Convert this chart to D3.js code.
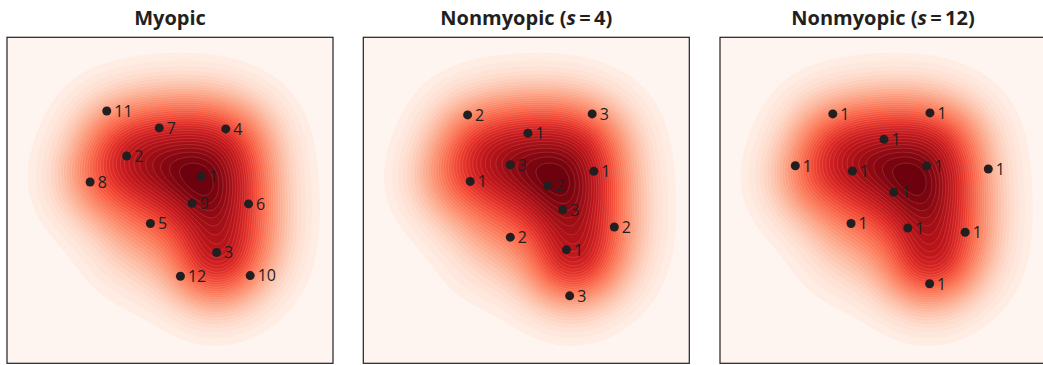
<!DOCTYPE html>
<html><head><meta charset="utf-8">
<script src="https://cdn.jsdelivr.net/npm/d3@7"></script>
<style>body{margin:0;background:#fff;} svg{display:block;}</style>
</head><body>
<svg id="chart" width="1043" height="365"></svg>
<script>
// ---- data ----
const titleMain = ["Myopic", "Nonmyopic (", "Nonmyopic ("];
const titleVar = ["", "s", "s"];
const titleTail = ["", "\u2009=\u20094)", "\u2009=\u200912)"];

// density field: Gaussian bumps (percent of frame, y downward)
const compX = [32, 46, 60, 72, 27, 73, 41, 74, 60, 73, 64, 38, 59.5, 47, 38, 60.5, 63, 55];
const compY = [29, 27, 27, 30, 44, 43, 55, 57, 70, 69, 75, 68, 42, 41, 38, 53, 66, 48];
const compSigma = [10, 10, 10, 10, 10, 10, 10, 10, 10, 10, 10, 10, 10, 9, 9, 9, 9, 16];
const compWeight = [0.45, 0.45, 0.45, 0.42, 0.55, 0.4, 0.35, 0.4, 0.4, 0.35, 0.3, 0.12, 0.58, 0.4, 0.25, 0.4, 0.18, 0.45];

const myopicX = [30.6, 46.7, 67.1, 36.7, 25.5, 59.6, 56.8, 74.1, 44.0, 64.3, 53.2, 74.6];
const myopicY = [22.6, 27.8, 28.1, 36.4, 44.4, 42.7, 50.9, 51.1, 57.1, 66.0, 73.3, 73.1];
const myopicLabels = ["11", "7", "4", "2", "8", "1", "9", "6", "5", "3", "12", "10"];

const s4X = [32.0, 70.2, 50.5, 45.1, 70.7, 32.8, 56.6, 61.2, 77.0, 45.1, 62.3, 63.3];
const s4Y = [23.8, 23.5, 29.4, 39.1, 41.1, 44.2, 45.5, 52.9, 58.2, 61.3, 65.2, 79.3];
const s4Labels = ["2", "3", "1", "3", "1", "1", "2", "3", "2", "2", "1", "3"];

const s12X = [34.6, 64.4, 50.3, 23.1, 40.6, 63.4, 82.3, 53.3, 40.2, 57.6, 75.2, 64.3];
const s12Y = [23.5, 23.2, 31.3, 39.4, 41.0, 39.5, 40.4, 47.5, 57.1, 58.5, 59.8, 75.6];
const s12Labels = ["1", "1", "1", "1", "1", "1", "1", "1", "1", "1", "1", "1"];

const panelsX = [myopicX, s4X, s12X];
const panelsY = [myopicY, s4Y, s12Y];
const panelsL = [myopicLabels, s4Labels, s12Labels];

// ---- layout ----
const panelLeft = [7, 363.3, 720];
const panelTop = 37.3;
const size = 326;
const nLevels = 38;
const lowFrac = 0.04;

const svg = d3.select("#chart");
const x = d3.scaleLinear().domain([0, 100]).range([0, size]);
const y = d3.scaleLinear().domain([0, 100]).range([0, size]);

// grid
const n = 200;
const values = new Float64Array(n * n);
for (let j = 0; j < n; j++) {
  for (let i = 0; i < n; i++) {
    const px = 100 * (i + 0.5) / n, py = 100 * (j + 0.5) / n;
    let v = 0;
    for (let k = 0; k < compX.length; k++) {
      const dx = px - compX[k], dy = py - compY[k];
      v += compWeight[k] * Math.exp(-(dx * dx + dy * dy) / (2 * compSigma[k] * compSigma[k]));
    }
    values[j * n + i] = v;
  }
}
const vmax = d3.max(values);
const thresholds = d3.range(nLevels).map(i => vmax * (lowFrac + (1 - lowFrac) * i / nLevels));
const contours = d3.contours().size([n, n]).thresholds(thresholds)(values);
const color = d3.scaleSequential(d3.interpolateReds).domain([0, vmax]);

const path = d3.geoPath(d3.geoTransform({
  point(gx, gy) { this.stream.point(x(100 * gx / n), y(100 * gy / n)); }
}));

svg.append("defs").selectAll("clipPath").data(panelLeft).join("clipPath")
  .attr("id", (d, i) => "clip" + i)
  .append("rect").attr("width", size).attr("height", size);

panelLeft.forEach((left, p) => {
  const g = svg.append("g").attr("transform", `translate(${left},${panelTop})`);
  const inner = g.append("g").attr("clip-path", `url(#clip${p})`);
  inner.append("rect").attr("width", size).attr("height", size).attr("fill", d3.interpolateReds(0));
  inner.selectAll("path.band").data(contours).join("path")
    .attr("class", "band")
    .attr("d", path)
    .attr("fill", (d, i) => {
      const hi = i + 1 < thresholds.length ? thresholds[i + 1] : vmax;
      return color((d.value + hi) / 2);
    })
    .attr("stroke", "#ffffff")
    .attr("stroke-opacity", 0.22)
    .attr("stroke-width", 0.6);

  const xs = panelsX[p], ys = panelsY[p], ls = panelsL[p];
  const pts = g.selectAll("g.pt").data(xs.map((d, i) => i)).join("g").attr("class", "pt");
  pts.append("circle")
    .attr("cx", i => x(xs[i])).attr("cy", i => y(ys[i])).attr("r", 4.5)
    .attr("fill", "#231f20");
  pts.append("text")
    .attr("x", i => x(xs[i]) + 7.5).attr("y", i => y(ys[i]))
    .attr("dy", "0.36em")
    .attr("font-family", "'Open Sans', 'Noto Sans', sans-serif")
    .attr("font-size", 16)
    .attr("fill", "#231f20")
    .text(i => ls[i]);

  g.append("rect").attr("width", size).attr("height", size)
    .attr("fill", "none").attr("stroke", "#231f20").attr("stroke-width", 1.2);

  const t = svg.append("text")
    .attr("x", left + size / 2).attr("y", 25)
    .attr("text-anchor", "middle")
    .attr("font-family", "'Open Sans', 'Noto Sans', sans-serif")
    .attr("font-weight", "bold")
    .attr("font-size", 20)
    .attr("fill", "#231f20");
  t.append("tspan").text(titleMain[p]);
  if (titleVar[p]) {
    t.append("tspan").attr("font-style", "italic").text(titleVar[p]);
    t.append("tspan").text(titleTail[p]);
  }
});
</script>
</body></html>
